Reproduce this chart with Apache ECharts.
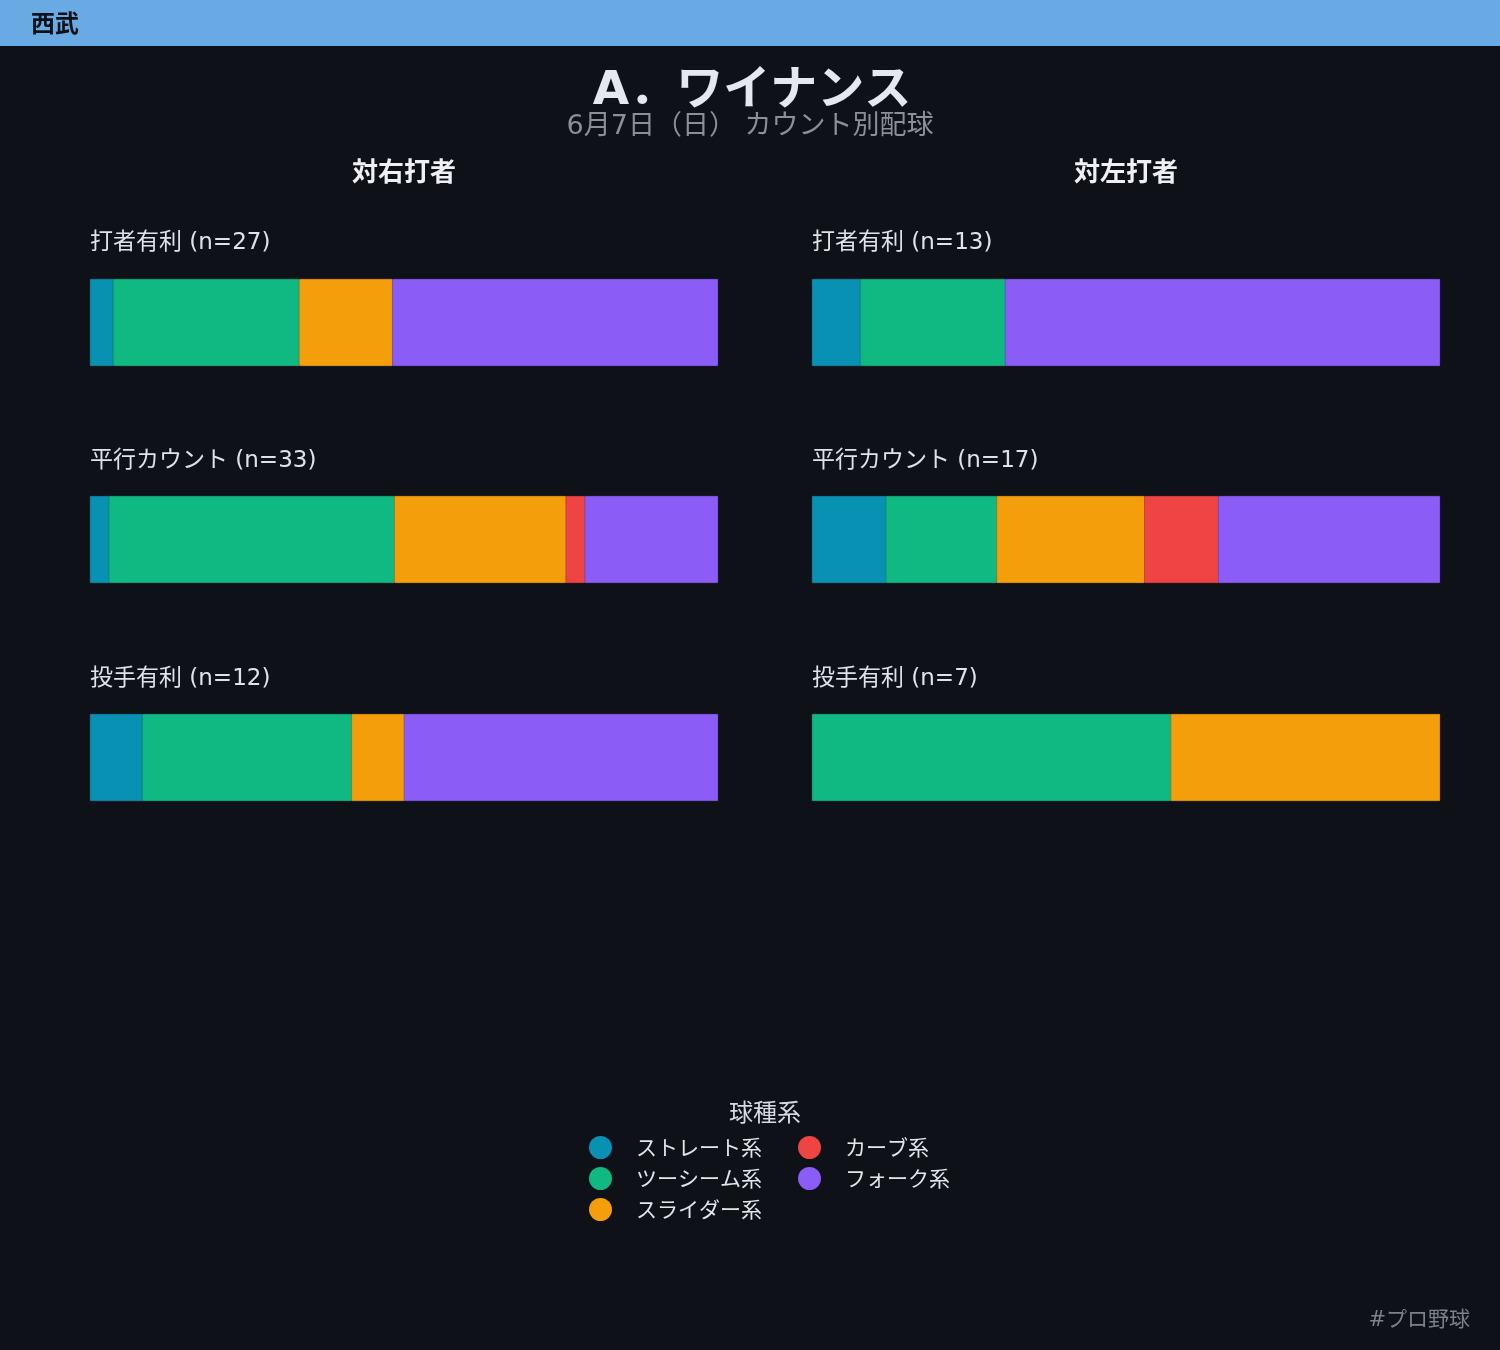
<!DOCTYPE html>
<html>
<head>
<meta charset="utf-8">
<script src="https://cdn.jsdelivr.net/npm/echarts@6/dist/echarts.min.js"></script>
<style>
html,body{margin:0;padding:0;background:#0e1117;}
#main{width:1500px;height:1350px;}
</style>
</head>
<body>
<div id="main"></div>
<script>
const pitchTypes = ['ストレート系', 'ツーシーム系', 'スライダー系', 'カーブ系', 'フォーク系'];
const pitchColors = ['#0891b2', '#10b981', '#f59e0b', '#ef4444', '#8b5cf6'];
const situations = ['打者有利', '平行カウント', '投手有利'];
const sides = ['対右打者', '対左打者'];
// counts per situation, in pitchTypes order
const countsVsRight = [
  [1, 8, 4, 0, 14],
  [1, 15, 9, 1, 7],
  [1, 4, 1, 0, 6]
];
const countsVsLeft = [
  [1, 3, 0, 0, 9],
  [2, 3, 4, 2, 6],
  [0, 4, 3, 0, 0]
];
const teamName = '西武';
const pitcherName = 'A．ワイナンス';
const subtitle = '6月7日（日） カウント別配球';
const legendTitle = '球種系';
const hashtag = '#プロ野球';

const FONT = '"DejaVu Sans", "Noto Sans CJK JP", sans-serif';
const chart = echarts.init(document.getElementById('main'), null, {renderer: 'canvas'});

const panelLeft = [90, 812];
const panelWidth = 628;
const rowTop = [279, 496, 714];
const barHeight = 87;
const labelY = [243, 461, 679];
const allCounts = [countsVsRight, countsVsLeft];

const grids = [], xAxes = [], yAxes = [], series = [];
const graphics = [];

graphics.push({type: 'rect', shape: {x: 0, y: 0, width: 1500, height: 46}, style: {fill: '#6aaae4'}, silent: true});
graphics.push({type: 'text', x: 31, y: 26, style: {text: teamName, font: 'bold 24px ' + FONT, fill: '#0e1117', textVerticalAlign: 'middle'}});
graphics.push({type: 'text', x: 752, y: 92, style: {text: pitcherName, font: 'bold 47px ' + FONT, fill: '#e5e8ef', textAlign: 'center', textVerticalAlign: 'middle'}});
graphics.push({type: 'text', x: 750, y: 127, style: {text: subtitle, font: '27px ' + FONT, fill: '#8b8f98', textAlign: 'center', textVerticalAlign: 'middle'}});
graphics.push({type: 'text', x: 765, y: 1115, style: {text: legendTitle, font: '24px ' + FONT, fill: '#d6d9df', textAlign: 'center', textVerticalAlign: 'middle'}});
graphics.push({type: 'text', x: 1470, y: 1321, style: {text: hashtag, font: '21px ' + FONT, fill: '#7d818a', textAlign: 'right', textVerticalAlign: 'middle'}});

sides.forEach((side, s) => {
  graphics.push({type: 'text', x: panelLeft[s] + panelWidth / 2, y: 174, style: {text: side, font: 'bold 26px ' + FONT, fill: '#eef0f4', textAlign: 'center', textVerticalAlign: 'middle'}});
  situations.forEach((sit, r) => {
    const counts = allCounts[s][r];
    const n = counts.reduce((a, b) => a + b, 0);
    const g = grids.length;
    graphics.push({type: 'text', x: panelLeft[s], y: labelY[r], style: {text: sit + ' (n=' + n + ')', font: '23px ' + FONT, fill: '#dfe2e8', textVerticalAlign: 'middle'}});
    grids.push({left: panelLeft[s], top: rowTop[r], width: panelWidth, height: barHeight, containLabel: false});
    xAxes.push({type: 'value', gridIndex: g, min: 0, max: n, show: false, splitLine: {show: false}});
    yAxes.push({type: 'category', gridIndex: g, data: [sit], show: false});
    pitchTypes.forEach((pt, k) => {
      series.push({
        type: 'bar', name: pt, stack: 'stack' + g,
        xAxisIndex: g, yAxisIndex: g,
        data: [{value: counts[k], itemStyle: {borderWidth: counts[k] > 0 ? 0.8 : 0}}],
        barWidth: '100%',
        itemStyle: {color: pitchColors[k], borderColor: pitchColors[k]},
        silent: true
      });
    });
  });
});

const legendCommon = {
  orient: 'vertical', icon: 'circle', itemWidth: 23, itemHeight: 23, itemGap: 8,
  selectedMode: false, padding: 0,
  itemStyle: {borderWidth: 0},
  textStyle: {color: '#e2e5ea', fontSize: 21, fontFamily: '"Noto Sans CJK JP", sans-serif', padding: [0, 0, 0, 19]}
};

chart.setOption({
  backgroundColor: '#0e1117',
  animation: false,
  grid: grids,
  xAxis: xAxes,
  yAxis: yAxes,
  series: series,
  legend: [
    Object.assign({}, legendCommon, {left: 589, top: 1136, data: pitchTypes.slice(0, 3)}),
    Object.assign({}, legendCommon, {left: 798, top: 1136, data: pitchTypes.slice(3)})
  ],
  graphic: graphics
});
</script>
</body>
</html>
